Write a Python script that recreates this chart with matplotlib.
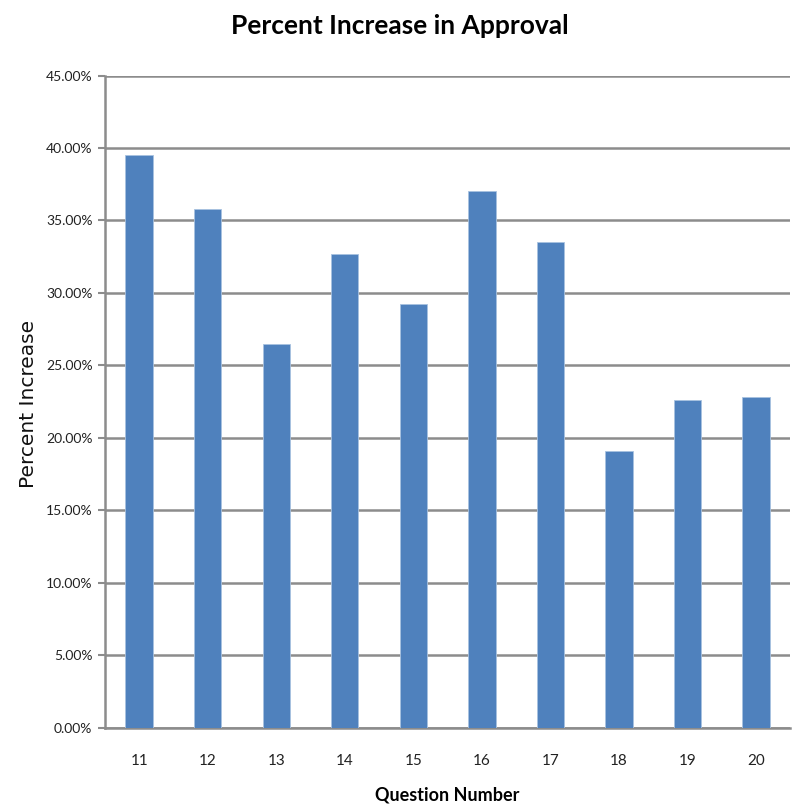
import matplotlib
matplotlib.use('Agg')
import matplotlib.pyplot as plt
from matplotlib.ticker import FuncFormatter, MultipleLocator

# 数据
questions = ['11', '12', '13', '14', '15', '16', '17', '18', '19', '20']
pct_increase = [39.5, 35.8, 26.5, 32.7, 29.2, 37.0, 33.5, 19.1, 22.6, 22.8]

bar_color = '#4F81BD'
grid_color = '#8C8C8C'

fig = plt.figure(figsize=(7.95, 8.08), dpi=100)
ax = fig.add_axes([0.132, 0.0995, 0.862, 0.807])

x = range(len(questions))
ax.bar(x, pct_increase, width=0.4, color=bar_color, edgecolor='#A8C2E0', linewidth=0.6, zorder=3)

ax.set_xlim(-0.5, len(questions) - 0.5)
ax.set_ylim(0, 45)
ax.yaxis.set_major_locator(MultipleLocator(5))
ax.yaxis.set_major_formatter(FuncFormatter(lambda v, p: f'{v:.2f}%'))
ax.set_xticks(list(x))
ax.set_xticklabels(questions)

ax.grid(axis='y', color=grid_color, linewidth=1.8, zorder=0)
for side in ['top', 'right']:
    ax.spines[side].set_visible(False)
for side in ['left', 'bottom']:
    ax.spines[side].set_color(grid_color)
    ax.spines[side].set_linewidth(1.8)

ax.tick_params(axis='y', length=5, width=1.5, color=grid_color, pad=4, labelsize=10)
ax.tick_params(axis='x', length=0, pad=19, labelsize=11)
for lbl in ax.get_yticklabels() + ax.get_xticklabels():
    lbl.set_family('Lato')
    lbl.set_color('#222222')

fig.text(0.503, 0.968, 'Percent Increase in Approval', ha='center', va='center',
         fontsize=19, fontweight='bold', family='Lato')
fig.text(0.036, 0.5, 'Percent Increase', ha='center', va='center', rotation=90,
         fontsize=14.5, family='DejaVu Sans', color='#111111')
fig.text(0.563, 0.016, 'Question Number', ha='center', va='center',
         fontsize=13, fontweight='bold', family='Lato')

plt.savefig('out.png', dpi=100)
